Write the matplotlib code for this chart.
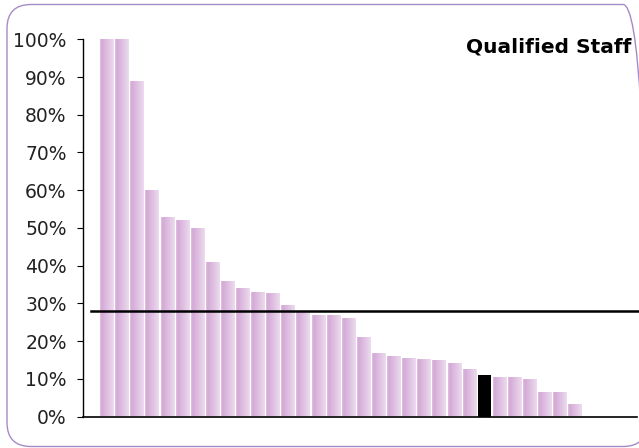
import numpy as np
import matplotlib.pyplot as plt
from matplotlib.patches import FancyBboxPatch
from matplotlib.colors import LinearSegmentedColormap
from matplotlib.ticker import FuncFormatter
from matplotlib.transforms import IdentityTransform

# ========================================
# Data
# ========================================
staff_pct = [100, 100, 89, 60, 53, 52, 50, 41, 36, 34, 33, 32.7, 29.6, 27.6,
             26.9, 26.9, 26.1, 21.1, 16.8, 16.0, 15.5, 15.2, 15.0, 14.2, 12.6,
             10.9, 10.5, 10.5, 9.9, 6.5, 6.5, 3.3]
highlight_idx = 25          # the black bar
average_pct = 28.0
title_text = 'Qualified Staff'
y_ticks = list(range(0, 101, 10))

# ========================================
# Figure
# ========================================
W, H = 639, 448
fig = plt.figure(figsize=(W / 100, H / 100), dpi=100)

# rounded purple frame (pixel coords, runs off the right edge)
frame = FancyBboxPatch((7, 1.5), 640, 442,
                       boxstyle="round,pad=0,rounding_size=24",
                       transform=IdentityTransform(), fill=False,
                       edgecolor='#a58bc6', linewidth=1.0, clip_on=False)
fig.patches.append(frame)

ax = fig.add_axes([83.3 / W, 1 - 416.5 / H, (637 - 83.3) / W, (416.5 - 39.3) / H])

x = np.arange(len(staff_pct))
bar_w = 0.88
grad = LinearSegmentedColormap.from_list(
    'pinkgrad', [(0, '#e0c2e0'), (0.12, '#d4a9d6'), (1, '#ecdbee')])
gimg = np.linspace(0, 1, 64).reshape(1, -1)

for i, v in zip(x, staff_pct):
    if i == highlight_idx:
        ax.bar(i, v, width=bar_w, color='black', zorder=2)
        continue
    b = ax.bar(i, v, width=bar_w, color='none', zorder=2)[0]
    im = ax.imshow(gimg, cmap=grad, aspect='auto', zorder=2,
                   extent=[i - bar_w / 2, i + bar_w / 2, 0, v])
    im.set_clip_path(b)

# average line
ax.plot([-1.06, 36], [average_pct, average_pct], color='black', lw=1.8, zorder=3,
        clip_on=False)

ax.set_xlim(-1.55, 35.1)
ax.set_ylim(0, 100)
ax.set_yticks(y_ticks)
ax.yaxis.set_major_formatter(FuncFormatter(lambda v, p: f'{int(v)}%'))
ax.tick_params(axis='y', length=4, width=0.8, pad=8, labelsize=13.5,
               labelcolor='#222222')
ax.set_xticks([])
for s in ['top', 'right']:
    ax.spines[s].set_visible(False)
ax.spines['left'].set_linewidth(1.0)
ax.spines['bottom'].set_linewidth(1.2)

fig.text(631 / W, 1 - 47 / H, title_text, ha='right', va='center',
         fontsize=14.5, fontweight='bold')

fig.savefig('out.png', dpi=100)
